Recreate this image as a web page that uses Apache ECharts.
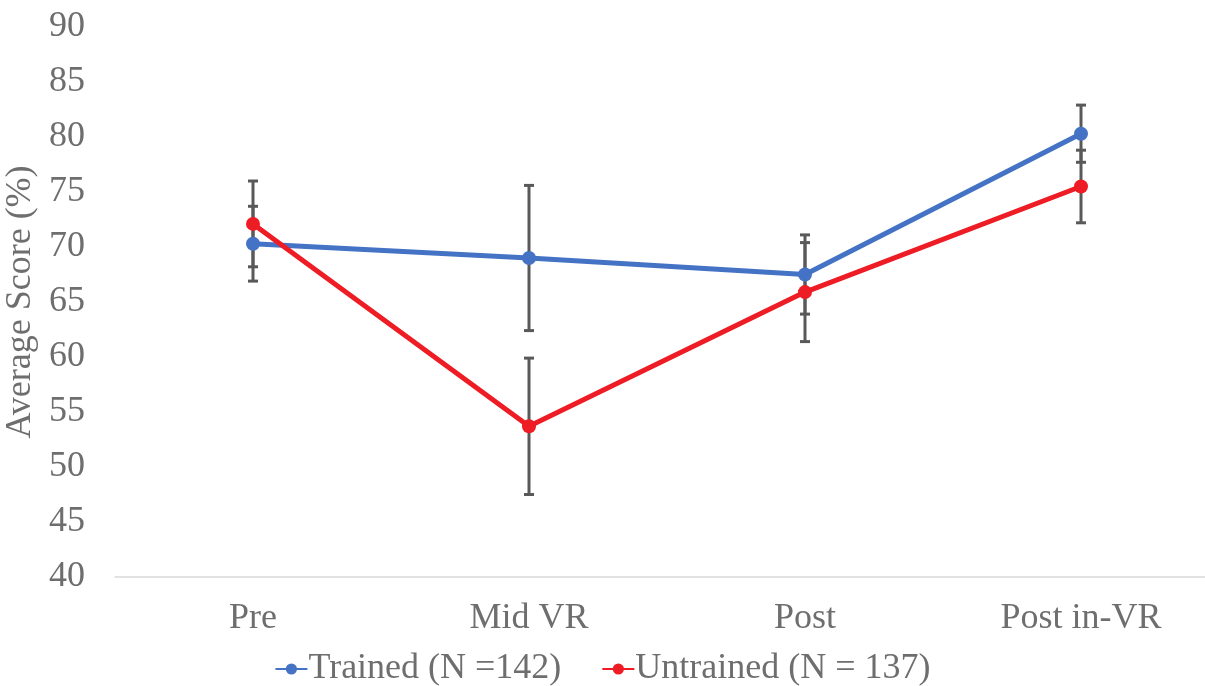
<!DOCTYPE html>
<html>
<head>
<meta charset="utf-8">
<script src="https://cdn.jsdelivr.net/npm/echarts@6/dist/echarts.min.js"></script>
<style>
  html, body { margin: 0; padding: 0; background: #fff; }
  #main { width: 1205px; height: 686px; }
</style>
</head>
<body>
<div id="main"></div>
<script>
var categories = ['Pre', 'Mid VR', 'Post', 'Post in-VR'];
var trained = [70.3, 69.0, 67.5, 80.3];
var trainedErr = [3.4, 6.6, 3.6, 2.6];
var untrained = [72.1, 53.7, 65.9, 75.5];
var untrainedErr = [3.9, 6.2, 4.5, 3.3];
var seriesNames = ['Trained (N =142)', 'Untrained (N = 137)'];

var txtColor = '#6e6e6e';
var font = '"Liberation Serif", "Times New Roman", serif';

function errData(vals, errs) {
	return vals.map(function (v, i) {
		return [i, v - errs[i], v + errs[i]];
	});
}

function renderErr(params, api) {
	var x = api.value(0);
	var lo = api.coord([x, api.value(1)]);
	var hi = api.coord([x, api.value(2)]);
	var half = 5;
	var st = { stroke: '#595959', lineWidth: 3 };
	return {
		type: 'group',
		children: [
			{ type: 'line', shape: { x1: hi[0], y1: hi[1], x2: lo[0], y2: lo[1] }, style: st },
			{ type: 'line', shape: { x1: hi[0] - half, y1: hi[1], x2: hi[0] + half, y2: hi[1] }, style: st },
			{ type: 'line', shape: { x1: lo[0] - half, y1: lo[1], x2: lo[0] + half, y2: lo[1] }, style: st }
		]
	};
}

var chart = echarts.init(document.getElementById('main'));
var option = {
	animation: false,
	color: ['#4472C4', '#EE1C25'],
	textStyle: { fontFamily: font },
	grid: {
		left: 115,
		top: 27,
		width: 1104,
		height: 550,
		outerBoundsMode: 'none',
		containLabel: false
	},
	legend: {
		data: seriesNames,
		bottom: -6,
		left: 'center',
		itemWidth: 32,
		itemHeight: 14,
		itemGap: 40,
		textStyle: { fontSize: 36, color: txtColor, fontFamily: font, padding: [0, 0, 0, -4] }
	},
	xAxis: {
		type: 'category',
		data: categories,
		boundaryGap: true,
		axisLine: { lineStyle: { color: '#d9d9d9', width: 1.5 } },
		axisTick: { show: false },
		axisLabel: { fontSize: 36, color: txtColor, margin: 24, fontFamily: font }
	},
	yAxis: {
		type: 'value',
		min: 40,
		max: 90,
		interval: 5,
		name: 'Average Score (%)',
		nameLocation: 'middle',
		nameGap: 68,
		nameTextStyle: { fontSize: 36, color: txtColor, fontFamily: font },
		axisLine: { show: false },
		axisTick: { show: false },
		splitLine: { show: false },
		axisLabel: { fontSize: 36, color: txtColor, margin: 30, fontFamily: font }
	},
	series: [
		{
			name: seriesNames[0],
			type: 'line',
			data: trained,
			symbol: 'circle',
			symbolSize: 14,
			lineStyle: { width: 5 },
			z: 3
		},
		{
			name: seriesNames[1],
			type: 'line',
			data: untrained,
			symbol: 'circle',
			symbolSize: 14,
			lineStyle: { width: 5 },
			z: 4
		},
		{
			type: 'custom',
			name: 'errT',
			data: errData(trained, trainedErr),
			renderItem: renderErr,
			z: 1
		},
		{
			type: 'custom',
			name: 'errU',
			data: errData(untrained, untrainedErr),
			renderItem: renderErr,
			z: 1
		}
	]
};
chart.setOption(option);
</script>
</body>
</html>
